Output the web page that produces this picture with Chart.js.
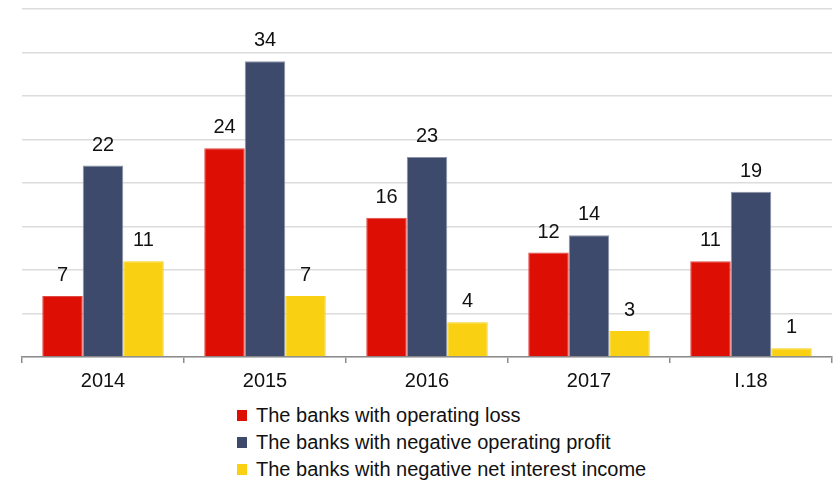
<!DOCTYPE html>
<html>
<head>
<meta charset="utf-8">
<script src="https://cdn.jsdelivr.net/npm/chart.js@4.4.1/dist/chart.umd.min.js"></script>
<style>
  html, body { margin: 0; padding: 0; background: #fff; }
  body { width: 834px; height: 484px; overflow: hidden; font-family: "Liberation Sans", Arial, sans-serif; }
  #wrap { position: relative; width: 834px; height: 399px; }
  #legend { margin: 3px 0 0 237px; padding: 0; list-style: none; }
  #legend li { display: flex; align-items: center; height: 27px; font-size: 20px; color: #111; }
  #legend .box { width: 10px; height: 11px; margin-right: 9px; }
</style>
</head>
<body>
<div id="wrap"><canvas id="chart"></canvas></div>
<ul id="legend"></ul>
<script>
const categories = ['2014', '2015', '2016', '2017', 'I.18'];
const operatingLoss = [7, 24, 16, 12, 11];
const negOperatingProfit = [22, 34, 23, 14, 19];
const negNetInterest = [11, 7, 4, 3, 1];
const seriesNames = [
  'The banks with operating loss',
  'The banks with negative operating profit',
  'The banks with negative net interest income',
];
const seriesColors = ['#dd0e03', '#3d4a6b', '#fad012'];
const seriesBorders = ['#e04a44', '#8a93a8', '#fad012'];

const valueLabels = {
  id: 'valueLabels',
  afterDatasetsDraw(chart) {
    const ctx = chart.ctx;
    ctx.save();
    ctx.font = '20px "Liberation Sans", Arial, sans-serif';
    ctx.fillStyle = '#111';
    ctx.textAlign = 'center';
    ctx.textBaseline = 'alphabetic';
    chart.data.datasets.forEach((ds, i) => {
      chart.getDatasetMeta(i).data.forEach((bar, j) => {
        ctx.fillText(String(ds.data[j]), bar.x, bar.y - 15);
      });
    });
    ctx.restore();
  },
};

const datasets = [operatingLoss, negOperatingProfit, negNetInterest].map((d, i) => ({
  label: seriesNames[i],
  data: d,
  backgroundColor: seriesColors[i],
  borderColor: seriesBorders[i],
  borderWidth: { top: 1, left: 1, right: 1, bottom: 0 },
  borderSkipped: 'bottom',
  categoryPercentage: 0.75,
  barPercentage: 1.0,
}));

new Chart(document.getElementById('chart'), {
  type: 'bar',
  data: { labels: categories, datasets },
  options: {
    responsive: true,
    maintainAspectRatio: false,
    animation: false,
    layout: { padding: { left: 22, right: 2, top: 9, bottom: 0 } },
    plugins: { legend: { display: false }, tooltip: { enabled: false } },
    scales: {
      x: {
        grid: { display: true, drawOnChartArea: false, drawTicks: true, tickLength: 6, color: '#8c8c8c', lineWidth: 1.5, offset: true },
        border: { display: true, color: '#8c8c8c', width: 1.5 },
        ticks: { color: '#111', font: { size: 20, family: '"Liberation Sans", Arial, sans-serif' }, padding: 6 },
      },
      y: {
        min: 0,
        max: 40,
        ticks: { display: false, stepSize: 5 },
        grid: { color: '#dcdcdc', lineWidth: 1.5, drawTicks: false },
        border: { display: false },
      },
    },
  },
  plugins: [valueLabels],
});

const legend = document.getElementById('legend');
seriesNames.forEach((name, i) => {
  const li = document.createElement('li');
  li.innerHTML = `<span class="box" style="background:${seriesColors[i]}"></span><span>${name}</span>`;
  legend.appendChild(li);
});
</script>
</body>
</html>
